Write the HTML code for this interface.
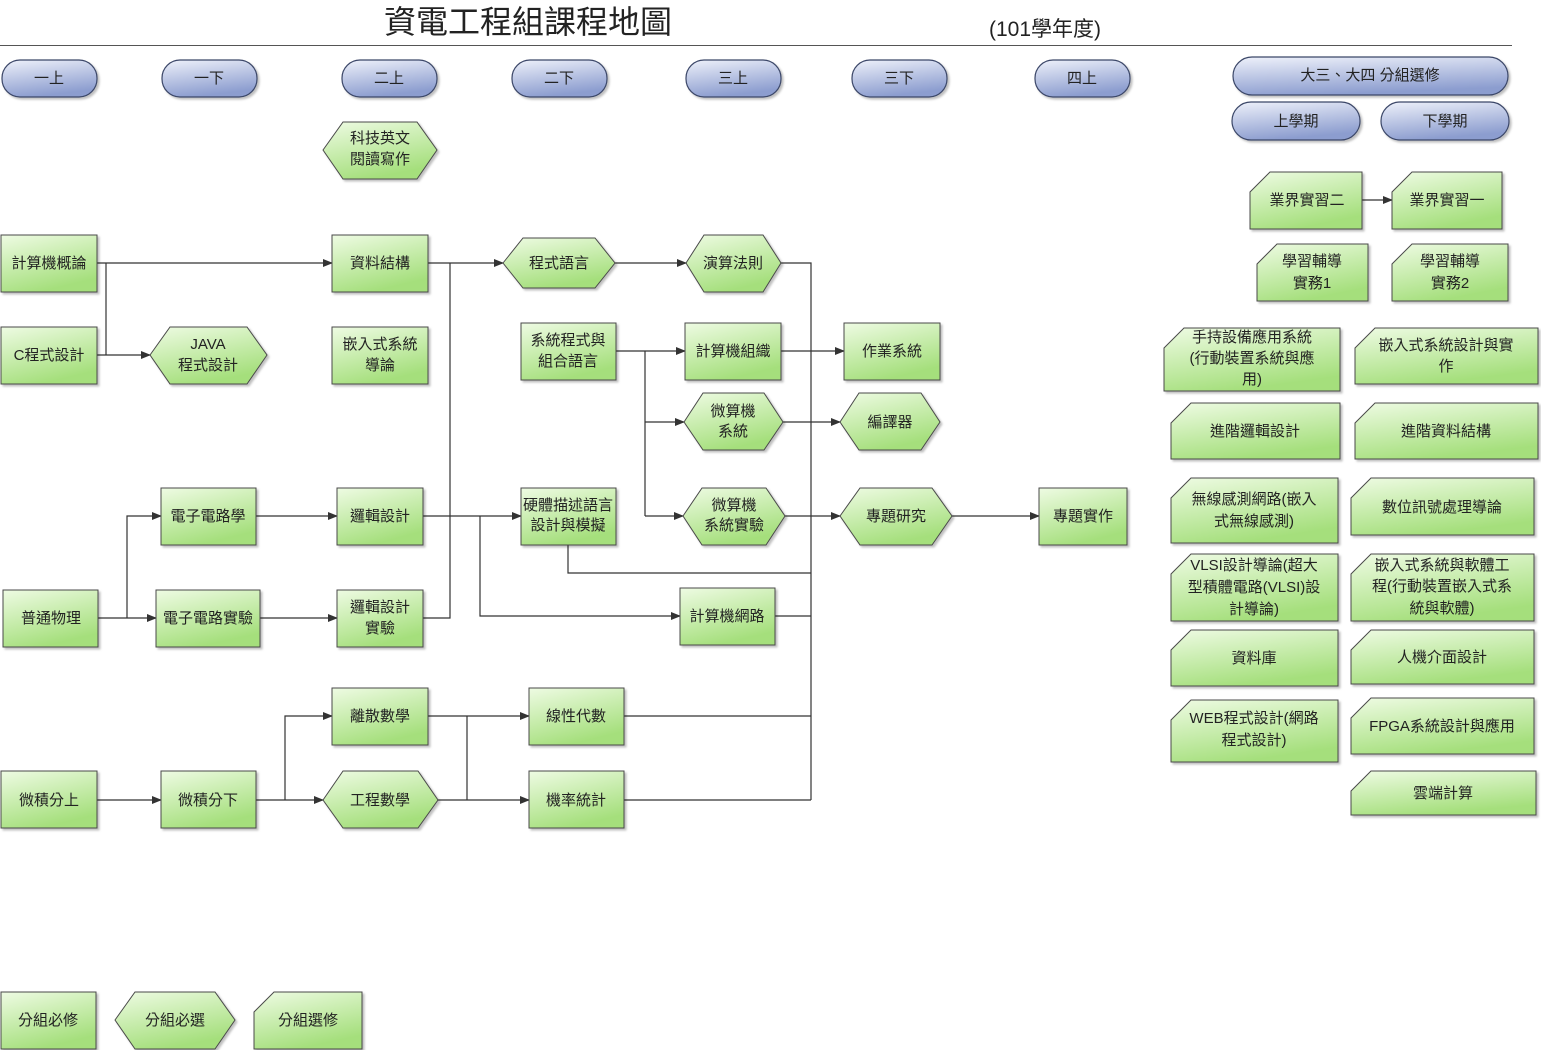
<!DOCTYPE html>
<html><head><meta charset="utf-8"><style>
html,body{margin:0;padding:0;background:#fff;}
svg{display:block;font-family:"Liberation Sans","Noto Sans CJK TC",sans-serif;}
.n{fill:url(#g);stroke:#4a4a4a;stroke-width:1;filter:url(#sh);}
.p{fill:url(#b);stroke:#3b4668;stroke-width:1.2;filter:url(#sh);}
.t{font-size:15px;fill:#222;text-anchor:middle;}
.l{stroke:#333;stroke-width:1.2;fill:none;}
.a{stroke:#333;stroke-width:1.2;fill:none;marker-end:url(#ar);}
</style></head><body>
<svg width="1541" height="1050" viewBox="0 0 1541 1050">
<defs>
<linearGradient id="g" x1="0" y1="0" x2="0.4" y2="1"><stop offset="0" stop-color="#eefbe3"/><stop offset="1" stop-color="#a5df7c"/></linearGradient>
<linearGradient id="b" x1="0" y1="0" x2="0.3" y2="1"><stop offset="0" stop-color="#eef1fa"/><stop offset="1" stop-color="#8c9dcf"/></linearGradient>
<filter id="sh" x="-10%" y="-10%" width="130%" height="130%"><feDropShadow dx="2" dy="2" stdDeviation="1" flood-color="#000" flood-opacity="0.25"/></filter>
<marker id="ar" markerWidth="10" markerHeight="8" refX="9" refY="4" orient="auto" markerUnits="userSpaceOnUse"><path d="M0,0 L10,4 L0,8 z" fill="#333"/></marker>
</defs>

<text x="528" y="33" font-size="32" text-anchor="middle" fill="#222">資電工程組課程地圖</text>
<text x="1045" y="36" font-size="21" text-anchor="middle" fill="#222">(101學年度)</text>
<line x1="0" y1="45.5" x2="1512" y2="45.5" stroke="#555" stroke-width="1"/>

<!-- pills -->
<rect class="p" x="2" y="60" width="95" height="37" rx="18"/><text class="t" x="49" y="83">一上</text>
<rect class="p" x="162" y="60" width="95" height="37" rx="18"/><text class="t" x="209" y="83">一下</text>
<rect class="p" x="342" y="60" width="95" height="37" rx="18"/><text class="t" x="389" y="83">二上</text>
<rect class="p" x="512" y="60" width="95" height="37" rx="18"/><text class="t" x="559" y="83">二下</text>
<rect class="p" x="686" y="60" width="95" height="37" rx="18"/><text class="t" x="733" y="83">三上</text>
<rect class="p" x="852" y="60" width="95" height="37" rx="18"/><text class="t" x="899" y="83">三下</text>
<rect class="p" x="1035" y="60" width="95" height="37" rx="18"/><text class="t" x="1082" y="83">四上</text>
<rect class="p" x="1233" y="57" width="275" height="38" rx="19"/><text class="t" x="1370" y="80">大三、大四 分組選修</text>
<rect class="p" x="1232" y="102" width="128" height="38" rx="19"/><text class="t" x="1296" y="126">上學期</text>
<rect class="p" x="1381" y="102" width="128" height="38" rx="19"/><text class="t" x="1445" y="126">下學期</text>

<!-- connectors -->
<path class="a" d="M97,263 H332"/>
<path class="l" d="M106,263 V355"/>
<path class="a" d="M97,355 H150"/>
<path class="a" d="M428,263 H503"/>
<path class="l" d="M423,618 H450 V263"/>
<path class="a" d="M615,263 H686"/>
<path class="l" d="M781,263 H811 V800"/>
<path class="a" d="M616,351 H685"/>
<path class="l" d="M645,351 V516"/>
<path class="a" d="M645,422 H684"/>
<path class="a" d="M645,516 H683"/>
<path class="a" d="M781,351 H844"/>
<path class="a" d="M783,422 H840"/>
<path class="a" d="M785,516 H840"/>
<path class="a" d="M423,516 H521"/>
<path class="a" d="M480,516 V616 H680"/>
<path class="l" d="M568,545 V573 H811"/>
<path class="l" d="M775,616 H811"/>
<path class="l" d="M624,716 H811"/>
<path class="l" d="M624,800 H811"/>
<path class="a" d="M952,516 H1039"/>
<path class="a" d="M98,618 H156"/>
<path class="a" d="M127,618 V516 H161"/>
<path class="a" d="M256,516 H337"/>
<path class="a" d="M260,618 H337"/>
<path class="a" d="M97,800 H161"/>
<path class="a" d="M256,800 H323"/>
<path class="a" d="M285,800 V716 H332"/>
<path class="a" d="M428,716 H529"/>
<path class="l" d="M467,716 V800"/>
<path class="a" d="M438,800 H529"/>
<path class="a" d="M1362,200 H1392"/>

<!-- hexagons -->
<polygon class="n" points="323,150 343,122 417,122 437,150 417,179 343,179"/><text class="t" x="380" y="143">科技英文</text><text class="t" x="380" y="164">閱讀寫作</text>
<polygon class="n" points="503,263 523,238 595,238 615,263 595,288 523,288"/><text class="t" x="559" y="268">程式語言</text>
<polygon class="n" points="686,263 704,235 763,235 781,263 763,292 704,292"/><text class="t" x="733" y="268">演算法則</text>
<polygon class="n" points="150,355 170,327 247,327 267,355 247,384 170,384"/><text class="t" x="208" y="349">JAVA</text><text class="t" x="208" y="370">程式設計</text>
<polygon class="n" points="684,422 703,393 764,393 783,422 764,450 703,450"/><text class="t" x="733" y="416">微算機</text><text class="t" x="733" y="436">系統</text>
<polygon class="n" points="840,422 859,393 921,393 940,422 921,450 859,450"/><text class="t" x="890" y="427">編譯器</text>
<polygon class="n" points="683,516 702,488 766,488 785,516 766,545 702,545"/><text class="t" x="734" y="510">微算機</text><text class="t" x="734" y="530">系統實驗</text>
<polygon class="n" points="840,516 860,488 932,488 952,516 932,545 860,545"/><text class="t" x="896" y="521">專題研究</text>
<polygon class="n" points="323,800 343,771 418,771 438,800 418,828 343,828"/><text class="t" x="380" y="805">工程數學</text>
<polygon class="n" points="115,1020 135,992 215,992 235,1020 215,1049 135,1049"/><text class="t" x="175" y="1025">分組必選</text>

<!-- rects -->
<rect class="n" x="1" y="235" width="96" height="57"/><text class="t" x="49" y="268">計算機概論</text>
<rect class="n" x="332" y="235" width="96" height="57"/><text class="t" x="380" y="268">資料結構</text>
<rect class="n" x="1" y="327" width="96" height="57"/><text class="t" x="49" y="360">C程式設計</text>
<rect class="n" x="332" y="327" width="96" height="57"/><text class="t" x="380" y="349">嵌入式系統</text><text class="t" x="380" y="370">導論</text>
<rect class="n" x="521" y="323" width="95" height="57"/><text class="t" x="568" y="345">系統程式與</text><text class="t" x="568" y="366">組合語言</text>
<rect class="n" x="685" y="323" width="96" height="57"/><text class="t" x="733" y="356">計算機組織</text>
<rect class="n" x="844" y="323" width="96" height="57"/><text class="t" x="892" y="356">作業系統</text>
<rect class="n" x="161" y="488" width="95" height="57"/><text class="t" x="208" y="521">電子電路學</text>
<rect class="n" x="337" y="488" width="86" height="57"/><text class="t" x="380" y="521">邏輯設計</text>
<rect class="n" x="521" y="488" width="95" height="57"/><text class="t" x="568" y="510">硬體描述語言</text><text class="t" x="568" y="530">設計與模擬</text>
<rect class="n" x="1039" y="488" width="88" height="57"/><text class="t" x="1083" y="521">專題實作</text>
<rect class="n" x="3" y="590" width="95" height="57"/><text class="t" x="51" y="623">普通物理</text>
<rect class="n" x="156" y="590" width="104" height="57"/><text class="t" x="208" y="623">電子電路實驗</text>
<rect class="n" x="337" y="590" width="86" height="57"/><text class="t" x="380" y="612">邏輯設計</text><text class="t" x="380" y="633">實驗</text>
<rect class="n" x="680" y="588" width="95" height="57"/><text class="t" x="727" y="621">計算機網路</text>
<rect class="n" x="332" y="688" width="96" height="57"/><text class="t" x="380" y="721">離散數學</text>
<rect class="n" x="529" y="688" width="95" height="57"/><text class="t" x="576" y="721">線性代數</text>
<rect class="n" x="529" y="771" width="95" height="57"/><text class="t" x="576" y="805">機率統計</text>
<rect class="n" x="1" y="771" width="96" height="57"/><text class="t" x="49" y="805">微積分上</text>
<rect class="n" x="161" y="771" width="95" height="57"/><text class="t" x="208" y="805">微積分下</text>
<rect class="n" x="1" y="992" width="95" height="57"/><text class="t" x="48" y="1025">分組必修</text>

<!-- notched -->
<polygon class="n" points="254,1012 274,992 362,992 362,1049 254,1049"/><text class="t" x="308" y="1025">分組選修</text>
<polygon class="n" points="1250,192 1270,172 1362,172 1362,229 1250,229"/><text class="t" x="1307" y="205">業界實習二</text>
<polygon class="n" points="1392,192 1412,172 1502,172 1502,229 1392,229"/><text class="t" x="1447" y="205">業界實習一</text>
<polygon class="n" points="1257,264 1277,244 1368,244 1368,301 1257,301"/><text class="t" x="1312" y="266">學習輔導</text><text class="t" x="1312" y="288">實務1</text>
<polygon class="n" points="1392,264 1412,244 1508,244 1508,301 1392,301"/><text class="t" x="1450" y="266">學習輔導</text><text class="t" x="1450" y="288">實務2</text>
<polygon class="n" points="1164,348 1184,328 1340,328 1340,391 1164,391"/><text class="t" x="1252" y="342">手持設備應用系統</text><text class="t" x="1252" y="363">(行動裝置系統與應</text><text class="t" x="1252" y="384">用)</text>
<polygon class="n" points="1355,348 1375,328 1538,328 1538,384 1355,384"/><text class="t" x="1446" y="350">嵌入式系統設計與實</text><text class="t" x="1446" y="371">作</text>
<polygon class="n" points="1171,423 1191,403 1340,403 1340,459 1171,459"/><text class="t" x="1255" y="436">進階邏輯設計</text>
<polygon class="n" points="1355,423 1375,403 1538,403 1538,459 1355,459"/><text class="t" x="1446" y="436">進階資料結構</text>
<polygon class="n" points="1171,498 1191,478 1338,478 1338,543 1171,543"/><text class="t" x="1254" y="504">無線感測網路(嵌入</text><text class="t" x="1254" y="526">式無線感測)</text>
<polygon class="n" points="1351,498 1371,478 1534,478 1534,535 1351,535"/><text class="t" x="1442" y="512">數位訊號處理導論</text>
<polygon class="n" points="1171,574 1191,554 1338,554 1338,621 1171,621"/><text class="t" x="1254" y="570">VLSI設計導論(超大</text><text class="t" x="1254" y="592">型積體電路(VLSI)設</text><text class="t" x="1254" y="614">計導論)</text>
<polygon class="n" points="1351,574 1371,554 1534,554 1534,621 1351,621"/><text class="t" x="1442" y="570">嵌入式系統與軟體工</text><text class="t" x="1442" y="591">程(行動裝置嵌入式系</text><text class="t" x="1442" y="613">統與軟體)</text>
<polygon class="n" points="1171,650 1191,630 1338,630 1338,686 1171,686"/><text class="t" x="1254" y="663">資料庫</text>
<polygon class="n" points="1351,650 1371,630 1534,630 1534,684 1351,684"/><text class="t" x="1442" y="662">人機介面設計</text>
<polygon class="n" points="1171,720 1191,700 1338,700 1338,762 1171,762"/><text class="t" x="1254" y="723">WEB程式設計(網路</text><text class="t" x="1254" y="745">程式設計)</text>
<polygon class="n" points="1351,718 1371,698 1534,698 1534,754 1351,754"/><text class="t" x="1442" y="731">FPGA系統設計與應用</text>
<polygon class="n" points="1351,791 1371,771 1536,771 1536,815 1351,815"/><text class="t" x="1443" y="798">雲端計算</text>
</svg>
</body></html>
